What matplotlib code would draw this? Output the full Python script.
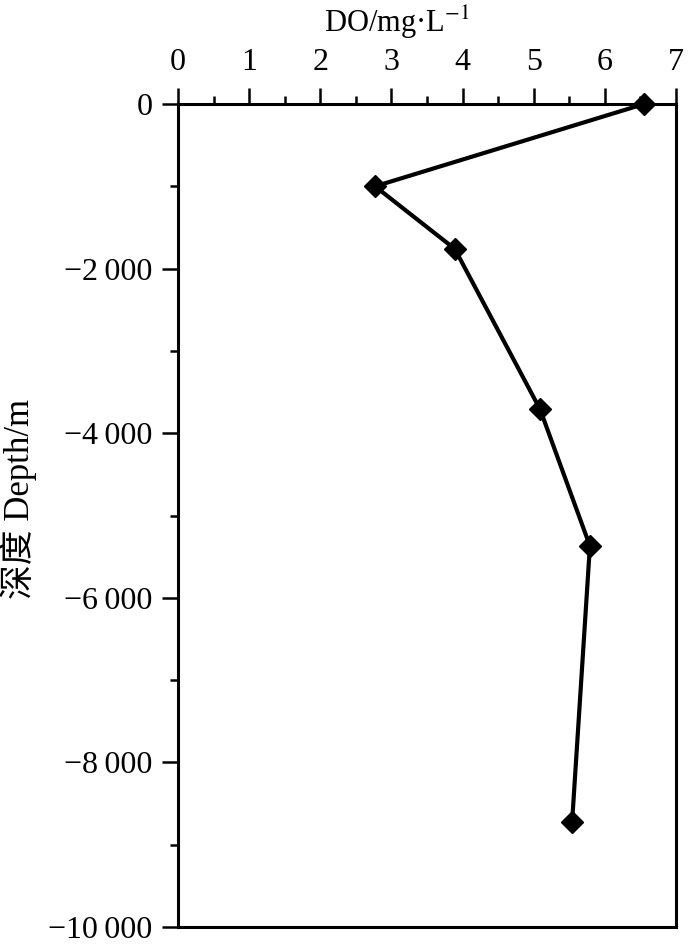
import matplotlib
matplotlib.use("Agg")
import matplotlib.pyplot as plt
from matplotlib.ticker import MultipleLocator, FixedLocator, FixedFormatter

plt.rcParams['font.family'] = ['Liberation Serif', 'Noto Sans CJK SC']
plt.rcParams['mathtext.fontset'] = 'stix'

# values
do_vals = [6.55, 2.77, 3.89, 5.09, 5.79, 5.54]
depth = [0, -1000, -1760, -3710, -5370, -8720]
ytick_vals = [0, -2000, -4000, -6000, -8000, -10000]
ytick_labels = ['0', '\u22122\u2009000', '\u22124\u2009000', '\u22126\u2009000',
                '\u22128\u2009000', '\u221210\u2009000']

fig = plt.figure(figsize=(7, 9.51), dpi=100)
ax = fig.add_axes([0.2543, 0.0252, 0.7114, 0.8654])

ax.plot(do_vals, depth, color='black', lw=3, marker='D', markersize=11,
        markerfacecolor='black', markeredgecolor='black', clip_on=False, zorder=3)

ax.set_xlim(0, 7)
ax.set_ylim(-10000, 0)

ax.xaxis.tick_top()
ax.xaxis.set_label_position('top')
ax.xaxis.set_major_locator(MultipleLocator(1))
ax.xaxis.set_minor_locator(MultipleLocator(0.5))
ax.yaxis.set_major_locator(FixedLocator(ytick_vals))
ax.yaxis.set_major_formatter(FixedFormatter(ytick_labels))
ax.yaxis.set_minor_locator(MultipleLocator(1000))

ax.tick_params(which='major', length=11.5, width=1.8, labelsize=23, direction='out')
ax.tick_params(which='minor', length=6, width=1.8, direction='out')
ax.tick_params(axis='x', which='major', pad=8)
ax.tick_params(axis='y', which='major', pad=7)

for s in ax.spines.values():
    s.set_linewidth(2.2)

ax.set_xlabel('DO/mg\u00b7L$^{-1}$', fontsize=22)
ax.xaxis.set_label_coords(0.44, 1.088)
ax.set_ylabel('深度 Depth/m', fontsize=25)
ax.yaxis.set_label_coords(-0.283, 0.52)

fig.savefig('out.png', dpi=100)
